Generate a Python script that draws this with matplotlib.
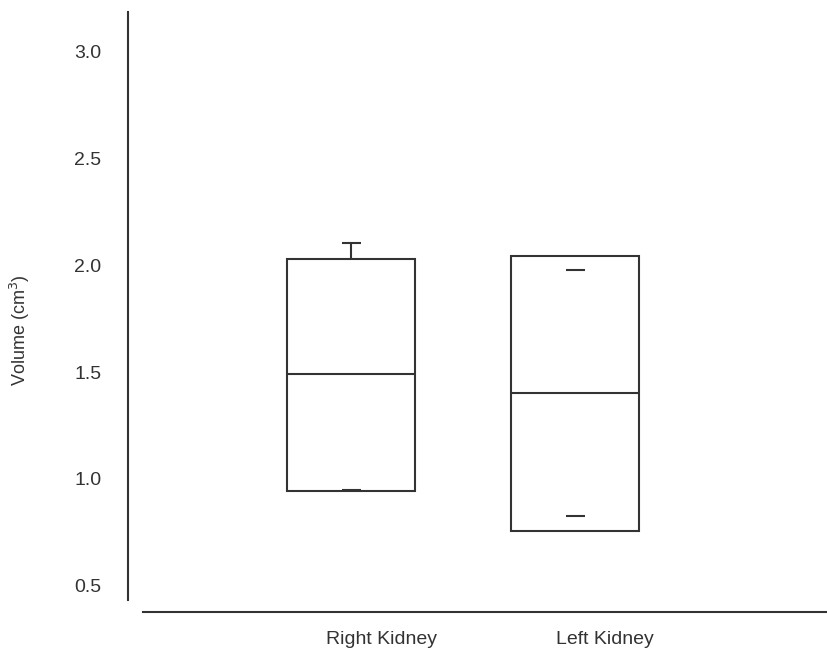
import matplotlib
matplotlib.use('Agg')
import matplotlib.pyplot as plt
import matplotlib.transforms as mtransforms
import numpy as np

plt.rcParams['font.family'] = ['Liberation Sans', 'DejaVu Sans']

# box summary
groups = ['Right Kidney', 'Left Kidney']
q1 = [0.944, 0.756]
q3 = [2.030, 2.043]
medians = [1.490, 1.400]
whisk_lo = [0.950, 0.827]
whisk_hi = [2.105, 1.980]
yticks = [0.5, 1.0, 1.5, 2.0, 2.5, 3.0]

col = '#333333'
lw = 1.5
pos = np.arange(1, len(groups) + 1)
box_w = 0.571
cap_w = 0.085

fig = plt.figure(figsize=(8.28, 6.53), dpi=100)
ax = fig.add_axes([128 / 828, 41 / 653, 700 / 828, 600 / 653])

ax.bar(pos, np.array(q3) - np.array(q1), bottom=q1, width=box_w,
       fill=False, edgecolor=col, linewidth=lw)
ax.hlines(medians, pos - box_w / 2, pos + box_w / 2, color=col, linewidth=lw)
ax.hlines(whisk_hi, pos - cap_w / 2, pos + cap_w / 2, color=col, linewidth=lw)
ax.hlines(whisk_lo, pos - cap_w / 2, pos + cap_w / 2, color=col, linewidth=lw)
for i in range(len(groups)):
    # only draw whisker stems that stick out of the box
    if whisk_hi[i] > q3[i]:
        ax.vlines(pos[i], q3[i], whisk_hi[i], color=col, linewidth=lw)
    if whisk_lo[i] < q1[i]:
        ax.vlines(pos[i], whisk_lo[i], q1[i], color=col, linewidth=lw)

ax.set_xlim(0.0045, 3.129)
ax.set_ylim(0.377, 3.186)
ax.spines['top'].set_visible(False)
ax.spines['right'].set_visible(False)
ax.spines['left'].set_bounds(0.434, 3.186)
ax.spines['bottom'].set_bounds(0.071, 3.129)
for s in ['left', 'bottom']:
    ax.spines[s].set_color(col)
    ax.spines[s].set_linewidth(lw)

ax.set_yticks(yticks)
ax.set_yticklabels(['%.1f' % t for t in yticks])
ax.set_xticks(pos)
ax.set_xticklabels(groups)
ax.tick_params(axis='y', length=0, pad=19, labelsize=14, labelcolor=col)
ax.tick_params(axis='x', length=0, pad=14, labelsize=14, labelcolor=col)
offset = mtransforms.ScaledTranslation(30 / 100, 0, fig.dpi_scale_trans)
for lab in ax.get_xticklabels():
    lab.set_transform(lab.get_transform() + offset)

ax.set_ylabel('Volume (cm$^3$)', fontsize=13, color=col)
ax.yaxis.set_label_coords(-0.137, 0.47)

fig.savefig('out.png', dpi=100)
